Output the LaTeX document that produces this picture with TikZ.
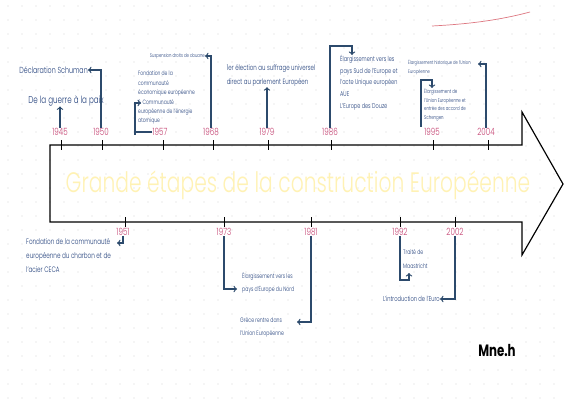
\documentclass[tikz,border=0pt]{standalone}
\usepackage{fontspec}
\setmainfont{Poppins Light}[FakeStretch=0.72,BoldFont={Poppins Bold}]
\usepackage{tikz}
\usetikzlibrary{arrows,positioning}

\definecolor{yearpink}{RGB}{196,64,112}
\definecolor{textblue}{RGB}{32,62,122}
\definecolor{linkblue}{RGB}{44,74,108}
\definecolor{titleyellow}{RGB}{255,242,180}
\definecolor{dotgrey}{RGB}{212,212,212}
\definecolor{swoosh}{RGB}{222,120,130}

\tikzset{
	year/.style={text=yearpink,font=\fontsize{8.5}{8.5}\selectfont,inner sep=0pt},
	event/.style={text=textblue,align=left,inner sep=0pt},
	link/.style={draw=linkblue,line width=1pt,-to},
	tick/.style={line width=0.8pt}
}
\newcommand{\fs}[2]{\fontsize{#1}{#2}\selectfont}

\begin{document}
\begin{tikzpicture}[x=0.03cm,y=-0.03cm]

	\useasboundingbox (0,0) rectangle (565,400);
	\fill[white] (0,0) rectangle (565,400);
	\foreach \i in {0,...,40}
		\foreach \j in {0,...,28}
			\fill[dotgrey] (8+14*\i,6+14*\j) circle (0.45pt);

	\draw[swoosh,line width=0.6pt] (432,26) .. controls (470,24) and (500,20) .. (530,12);

	\draw[line width=1pt,line join=miter] (522,145) -- (50,145) -- (50,222) -- (522,222) -- (522,255) -- (563,184) -- (522,112) -- cycle;

	\node[text=titleyellow,font=\fs{24}{24}] (title) at (298,185) {Grande étapes de la construction Européenne};

	\coordinate (t1945) at (61,145);
	\coordinate (t1950) at (102,145);
	\coordinate (t1957) at (163,145);
	\coordinate (t1968) at (213,145);
	\coordinate (t1979) at (268,145);
	\coordinate (t1986) at (331,145);
	\coordinate (t1995) at (433,145);
	\coordinate (t2004) at (488,145);
	\coordinate (t1951) at (125,222);
	\coordinate (t1973) at (224,222);
	\coordinate (t1981) at (311,222);
	\coordinate (t1992) at (400,222);
	\coordinate (t2002) at (455,222);
	\foreach \t in {t1945,t1950,t1957,t1968,t1979,t1986,t1995,t2004,t1951,t1973,t1981,t1992,t2002}
		\draw[tick] ([yshift=4pt]\t) -- ([yshift=-4pt]\t);

	\node[year] (y1945) at (60,132) {1945};
	\node[year] (y1950) at (101,132) {1950};
	\node[year] (y1957) at (160,132) {1957};
	\node[year] (y1968) at (211,132) {1968};
	\node[year] (y1979) at (267,132) {1979};
	\node[year] (y1986) at (330,132) {1986};
	\node[year] (y1995) at (432,132) {1995};
	\node[year] (y2004) at (486,132) {2004};
	\node[year] (y1951) at (123,232) {1951};
	\node[year] (y1973) at (224,232) {1973};
	\node[year] (y1981) at (311,232) {1981};
	\node[year] (y1992) at (400,232) {1992};
	\node[year] (y2002) at (455,232) {2002};

	\node[event,font=\fs{8.5}{10}] (e1945) at (66,101) {De la guerre à la paix};
	\node[event,font=\fs{7.5}{9},anchor=east] (e1950) at (88,70) {Déclaration Schuman};
	\node[event,font=\fs{5.3}{8},anchor=north west] (e1957) at (138,71) {Fondation de la\\communauté\\économique européenne\\\& Communauté\\européenne de l'énergie\\atomique};
	\node[event,font=\fs{4.5}{6},anchor=east] (e1968) at (205,56) {Suspension droits de douane};
	\node[event,font=\fs{6.5}{12}] (e1979) at (271,76) {1er élection au suffrage universel\\direct au parlement Européen};
	\node[event,font=\fs{5.9}{10},anchor=north west] (e1986) at (340,55) {Élargissement vers les\\pays Sud de l'Europe et\\l'acte Unique européen\\AUE\\L'Europe des Douze};
	\node[event,font=\fs{4.6}{7.6},anchor=north west] (e1995) at (424,88) {Élargissement de\\l'Union Européenne et\\entrée des accord de\\Schengen};
	\node[event,font=\fs{4.3}{7.6},anchor=north west] (e2004) at (408,60) {Élargissement historique de l'Union\\Européenne};
	\node[event,font=\fs{6.7}{12},anchor=north west] (e1951) at (26,238) {Fondation de la communauté\\européenne du charbon et de\\l'acier CECA};
	\node[event,font=\fs{5.5}{11},anchor=north west] (e1973) at (242,272) {Élargissement vers les\\pays d'Europe du Nord};
	\node[event,font=\fs{5.5}{11},anchor=north west] (e1981) at (240,317) {Grèce rentre dans\\l'Union Européenne};
	\node[event,font=\fs{5.5}{12},anchor=north west] (e1992) at (403,249) {Traité de\\Maastricht};
	\node[event,font=\fs{6.1}{7},anchor=east] (e2002) at (440,299) {L'introduction de l'Euro};

	\node[font=\bfseries\fs{14}{14}] (sig) at (497,350) {Mne.h};

	\coordinate (k1957) at (135,135);
	\coordinate (p1957) at (141,103);
	\coordinate (k1986) at (352,46);
	\coordinate (k1995) at (421,127);
	\coordinate (p1995) at (432,80);
	\coordinate (p2004) at (478,64);
	\coordinate (p1951) at (117,243);
	\coordinate (p1973) at (237,289);
	\coordinate (p1981) at (297,322);
	\coordinate (k1992) at (400,280);
	\coordinate (p1992) at (409,273);

	\draw[link] (y1945.north) -- (y1945.north |- e1945.south);
	\draw[link] (y1950.north) |- (e1950.east);
	\draw[link] (y1957.west) -| (k1957) |- (p1957);
	\draw[link] (y1968.north) |- (e1968.east);
	\draw[link] (y1979.north) -- (y1979.north |- e1979.south);
	\draw[link] (y1986.north) |- (k1986) -- (k1986 |- e1986.north);
	\draw[link] (k1995) |- (p1995) -- (p1995 |- e1995.north);
	\draw[link] (y2004.north) |- (p2004);
	\draw[link] (y1951.south) |- (p1951);
	\draw[link] (y1973.south) |- (p1973);
	\draw[link] (y1981.south) |- (p1981);
	\draw[link] (y1992.south) -- (k1992) -| (p1992);
	\draw[link] (y2002.south) |- (e2002.east);

\end{tikzpicture}
\end{document}
